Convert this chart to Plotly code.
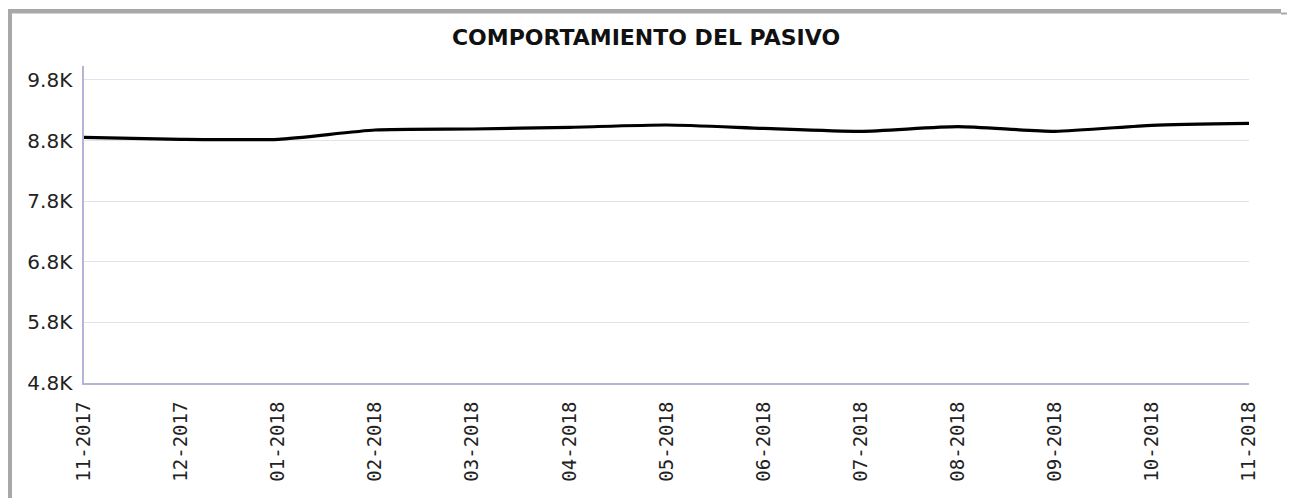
import plotly.graph_objects as go

# monthly values of the liability (pasivo)
months = ['11-2017', '12-2017', '01-2018', '02-2018', '03-2018', '04-2018', '05-2018',
          '06-2018', '07-2018', '08-2018', '09-2018', '10-2018', '11-2018']
pasivo = [8854, 8821, 8821, 8974, 8991, 9019, 9057, 9002, 8953, 9029, 8953, 9052, 9085]

y_ticks = [4800, 5800, 6800, 7800, 8800, 9800]
y_tick_labels = ['4.8K', '5.8K', '6.8K', '7.8K', '8.8K', '9.8K']

# the page body has an 8px margin, so the figure is drawn 8px in from the corner
OFF = 8
W, H = 1295 - OFF, 498 - OFF
L, R, T, B = 84 - OFF, 46, 66 - OFF, 115


def px(x):  # page pixel -> paper x
    return (x - OFF - L) / (W - L - R)


def py(y):  # page pixel -> paper y
    return (H - B - (y - OFF)) / (H - T - B)


fig = go.Figure(go.Scatter(
    x=months, y=pasivo,
    mode='lines',
    line=dict(color='black', width=3.2, shape='spline', smoothing=0.6),
    hoverinfo='x+y'
))

border = '#a8a8a8'
fig.update_layout(
    width=W, height=H,
    margin=dict(l=L, r=R, t=T, b=B),
    paper_bgcolor='white', plot_bgcolor='white',
    showlegend=False,
    title=dict(text='<b>COMPORTAMIENTO DEL PASIVO</b>',
               x=(646 - OFF) / W, xref='container', xanchor='center',
               y=1 - (37 - OFF) / H, yref='container', yanchor='middle',
               font=dict(family='DejaVu Sans', size=22, color='#111')),
    xaxis=dict(
        type='category', range=[0, len(months) - 1],
        tickangle=-90, showgrid=False,
        ticks='outside', ticklen=9, tickcolor='rgba(0,0,0,0)',
        tickfont=dict(family='DejaVu Sans Mono', size=19, color='#222'),
        showline=True, linecolor='#b4b4d6', linewidth=2,
        zeroline=False, fixedrange=True
    ),
    yaxis=dict(
        range=[4800, 10030],
        tickvals=y_ticks, ticktext=y_tick_labels,
        ticks='outside', ticklen=6, tickcolor='rgba(0,0,0,0)',
        tickfont=dict(family='DejaVu Sans', size=20, color='#222'),
        showgrid=True, gridcolor='#e2e2ee', gridwidth=1,
        showline=True, linecolor='#b4b4d6', linewidth=1.5,
        zeroline=False, fixedrange=True
    ),
    shapes=[
        # grey frame: left edge and top edge
        dict(type='rect', xref='paper', yref='paper', layer='above',
             x0=px(7), x1=px(12), y0=py(9), y1=py(510),
             fillcolor=border, line=dict(width=0)),
        dict(type='rect', xref='paper', yref='paper', layer='above',
             x0=px(7), x1=px(1281), y0=py(9), y1=py(13.5),
             fillcolor=border, line=dict(width=0)),
        dict(type='rect', xref='paper', yref='paper', layer='above',
             x0=px(1281), x1=px(1300), y0=py(12.5), y1=py(14.5),
             fillcolor=border, line=dict(width=0)),
    ]
)

fig.write_html("out.html")
